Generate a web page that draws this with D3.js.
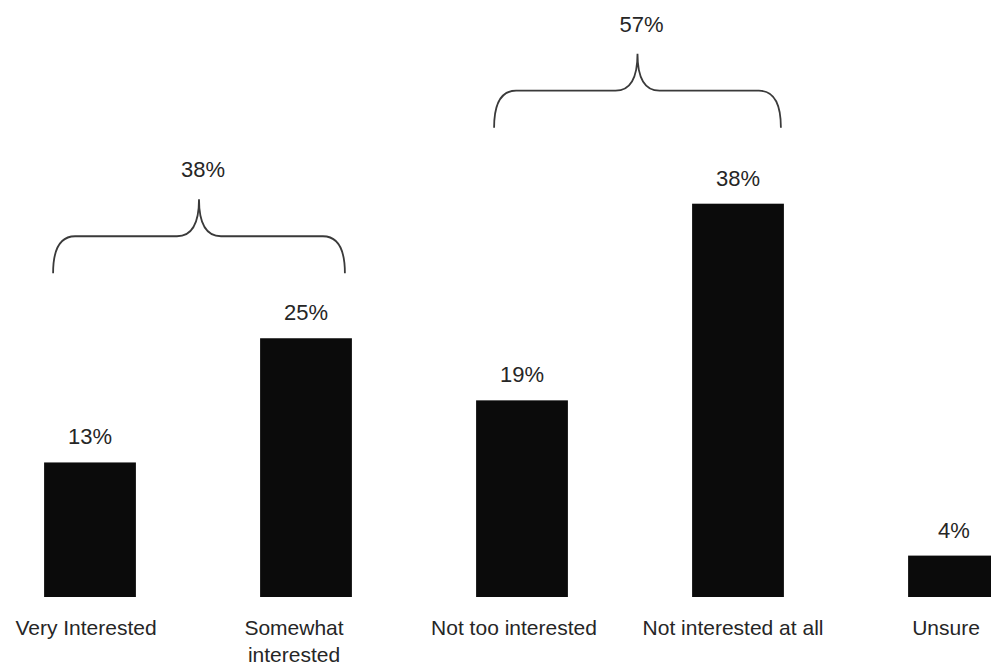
<!DOCTYPE html>
<html>
<head>
<meta charset="utf-8">
<script src="https://cdn.jsdelivr.net/npm/d3@7"></script>
<style>
  html, body { margin: 0; padding: 0; background: #ffffff; }
  svg { display: block; }
</style>
</head>
<body>
<script>
// Level of interest responses
const categories = ["Very Interested", "Somewhat interested", "Not too interested", "Not interested at all", "Unsure"];
const categoryLines = [["Very Interested"], ["Somewhat", "interested"], ["Not too interested"], ["Not interested at all"], ["Unsure"]];
const values = [13, 25, 19, 38, 4];

// Bracketed groups (combined shares)
const groupMembers = [["Very Interested", "Somewhat interested"], ["Not too interested", "Not interested at all"]];

const width = 991, height = 672;
const baseline = 597;

const svg = d3.select("body").append("svg")
  .attr("width", width)
  .attr("height", height);

const x = d3.scaleBand()
  .domain(categories)
  .range([-18, 1062])
  .paddingInner(0.575)
  .paddingOuter(0.2875);

const y = d3.scaleLinear()
  .domain([0, 40])
  .range([baseline, baseline - 414]);

const fontFamily = "'Liberation Sans', Arial, Helvetica, sans-serif";
const textColor = "#262626";

// Bars
svg.append("g").selectAll("rect")
  .data(categories)
  .join("rect")
  .attr("x", d => x(d))
  .attr("y", (d, i) => y(values[i]))
  .attr("width", x.bandwidth())
  .attr("height", (d, i) => y(0) - y(values[i]))
  .attr("fill", "#0b0b0b");

// Value labels above bars
svg.append("g").selectAll("text")
  .data(categories)
  .join("text")
  .attr("x", d => x(d) + x.bandwidth() / 2)
  .attr("y", (d, i) => y(values[i]) - 18)
  .attr("text-anchor", "middle")
  .attr("font-family", fontFamily)
  .attr("font-size", 22)
  .attr("fill", textColor)
  .text((d, i) => values[i] + "%");

// Category labels below bars
const labelShift = [-4, -12, -8, -5, -8];
const catG = svg.append("g").selectAll("text")
  .data(categories)
  .join("text")
  .attr("x", (d, i) => x(d) + x.bandwidth() / 2 + labelShift[i])
  .attr("y", 635)
  .attr("text-anchor", "middle")
  .attr("font-family", fontFamily)
  .attr("font-size", 21)
  .attr("fill", textColor);

catG.selectAll("tspan")
  .data((d, i) => categoryLines[i])
  .join("tspan")
  .attr("x", function () { return d3.select(this.parentNode).attr("x"); })
  .attr("dy", (d, j) => j === 0 ? 0 : 27)
  .text(d => d);

// Curly braces over the grouped bars
const braceLift = [65, 76];
const braceInsetL = [9, 18];
const braceInsetR = [7, 3];
const armH = 37, tipH = 37, curveW = 22;

groupMembers.forEach((members, gi) => {
  const idx = members.map(m => categories.indexOf(m));
  const total = d3.sum(idx, i => values[i]);
  const top = d3.min(idx, i => y(values[i]));
  const endY = top - braceLift[gi];
  const hY = endY - armH;
  const tipY = hY - tipH;
  const L = x(members[0]) + braceInsetL[gi];
  const R = x(members[members.length - 1]) + x.bandwidth() - braceInsetR[gi];
  const mid = (L + R) / 2;

  const p = d3.path();
  p.moveTo(L, endY);
  p.quadraticCurveTo(L, hY, L + curveW, hY);
  p.lineTo(mid - curveW, hY);
  p.quadraticCurveTo(mid, hY, mid, tipY);
  p.quadraticCurveTo(mid, hY, mid + curveW, hY);
  p.lineTo(R - curveW, hY);
  p.quadraticCurveTo(R, hY, R, endY);

  svg.append("path")
    .attr("d", p.toString())
    .attr("fill", "none")
    .attr("stroke", "#3a3a3a")
    .attr("stroke-width", 1.8);

  svg.append("text")
    .attr("x", mid + 4)
    .attr("y", tipY - 22)
    .attr("text-anchor", "middle")
    .attr("font-family", fontFamily)
    .attr("font-size", 22)
    .attr("fill", textColor)
    .text(total + "%");
});
</script>
</body>
</html>
